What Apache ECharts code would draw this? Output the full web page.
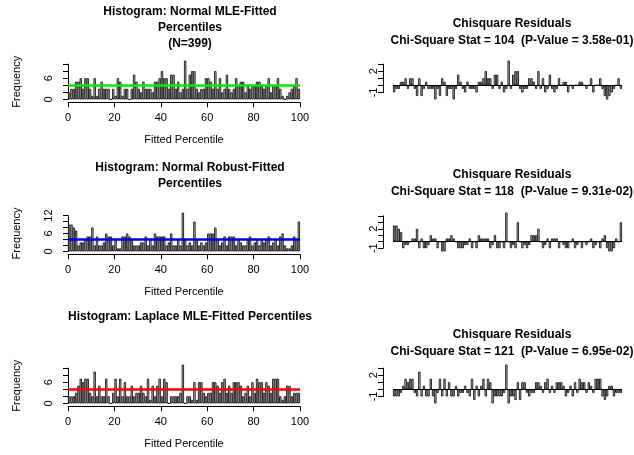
<!DOCTYPE html>
<html>
<head>
<meta charset="utf-8">
<script src="https://cdn.jsdelivr.net/npm/echarts@6/dist/echarts.min.js"></script>
<style>
html, body { margin: 0; padding: 0; background: #fff; }
#main { width: 634px; height: 455px; }
</style>
</head>
<body>
<div id="main"></div>
<script>
// 直方图计数 (100 个分箱, 每箱 1 个百分位)
var countsMLE = [2,3,3,5,5,6,3,6,6,3, 1,6,1,3,5,3,3,3,0,3, 1,6,5,1,3,3,0,3,7,5, 3,2,5,3,3,3,2,5,5,6, 8,6,6,3,7,7,3,5,2,3,
                 11,3,7,8,8,3,2,3,3,6, 6,5,3,8,3,6,2,3,7,3, 2,3,6,4,5,5,2,4,3,4, 4,5,5,4,3,4,6,2,4,4, 6,3,1,0,1,2,3,4,6,3];
var countsRobust = [9,9,8,7,2,3,3,4,5,5, 8,2,5,2,2,3,6,5,5,2, 4,1,1,5,5,6,5,4,2,2, 2,3,3,5,2,4,2,6,5,5, 5,5,2,3,6,2,2,4,2,13,
                    4,2,3,2,10,4,2,3,2,3, 6,6,6,8,4,2,3,5,2,5, 5,5,2,4,3,2,2,4,5,2, 3,4,2,4,3,4,5,2,3,4, 2,5,6,2,1,1,2,5,4,10];
var countsLaplace = [2,2,2,3,5,7,6,7,7,3, 2,9,2,5,2,2,7,2,0,3, 7,2,7,2,6,2,2,5,2,3, 3,5,3,2,7,1,5,2,5,7, 2,7,6,0,2,2,2,2,3,11,
                     0,2,2,1,6,1,6,6,3,2, 3,3,6,6,5,3,6,7,3,5, 3,6,6,6,5,2,3,5,2,6, 3,7,6,6,3,6,5,3,7,7, 7,2,1,2,5,5,2,3,3,3];

// 卡方残差
var residMLE = [-1,-0.5,-0.5,0.5,0.5,1,-0.5,1,1,-0.5, -1.5,1,-1.5,-0.5,0.5,-0.5,-0.5,-0.5,-2,-0.5,
                -1.5,1,0.5,-1.5,-0.5,-0.5,-2,-0.5,1.5,0.5, -0.5,-1,0.5,-0.5,-0.5,-0.5,-1,0.5,0.5,1,
                2,1,1,-0.5,1.5,1.5,-0.5,0.5,-1,-0.5, 3.5,-0.5,1.5,2,2,-0.5,-1,-0.5,-0.5,1,
                1,0.5,-0.5,2,-0.5,1,-1,-0.5,1.5,-0.5, -1,-0.5,1,0,0.5,0.5,-1,0,-0.5,0,
                0,0.5,0.5,0,-0.5,0,1,-1,0,0, 1,-0.5,-1.5,-2,-1.5,-1,-0.5,0,1,-0.5];
var residRobust = [2.5,2.5,2,1.5,-1,-0.5,-0.5,0,0.5,0.5, 2,-1,0.5,-1,-1,-0.5,1,0.5,0.5,-1,
                   0,-1.5,-1.5,0.5,0.5,1,0.5,0,-1,-1, -1,-0.5,-0.5,0.5,-1,0,-1,1,0.5,0.5,
                   0.5,0.5,-1,-0.5,1,-1,-1,0,-1,4.5, 0,-1,-0.5,-1,3,0,-1,-0.5,-1,-0.5,
                   1,1,1,2,0,-1,-0.5,0.5,-1,0.5, 0.5,0.5,-1,0,-0.5,-1,-1,0,0.5,-1,
                   -0.5,0,-1,0,-0.5,0,0.5,-1,-0.5,0, -1,0.5,1,-1,-1.5,-1.5,-1,0.5,0,3];
var residLaplace = [-1,-1,-1,-0.5,0.5,1.5,1,1.5,1.5,-0.5, -1,2.5,-1,0.5,-1,-1,1.5,-1,-2,-0.5,
                    1.5,-1,1.5,-1,1,-1,-1,0.5,-1,-0.5, -0.5,0.5,-0.5,-1,1.5,-1.5,0.5,-1,0.5,1.5,
                    -1,1.5,1,-2,-1,-1,-1,-1,-0.5,3.5, -2,-1,-1,-1.5,1,-1.5,1,1,-0.5,-1,
                    -0.5,-0.5,1,1,0.5,-0.5,1,1.5,-0.5,0.5, -0.5,1,1,1,0.5,-1,-0.5,0.5,-1,1,
                    -0.5,1.5,1,1,-0.5,1,0.5,-0.5,1.5,1.5, 1.5,-1,-1.5,-1,0.5,0.5,-1,-0.5,-0.5,-0.5];

var xTicks = [0, 20, 40, 60, 80, 100];
var expected = 3.99; // 399 / 100

var titlesLeft = ['Histogram: Normal MLE-Fitted\nPercentiles\n(N=399)', 'Histogram: Normal Robust-Fitted\nPercentiles', 'Histogram: Laplace MLE-Fitted Percentiles'];
var titlesRight = ['Chisquare Residuals\nChi-Square Stat = 104  (P-Value = 3.58e-01)',
                   'Chisquare Residuals\nChi-Square Stat = 118  (P-Value = 9.31e-02)',
                   'Chisquare Residuals\nChi-Square Stat = 121  (P-Value = 6.95e-02)'];
var lineColors = ['#00ee00', '#0000ff', '#ff0000'];

var myChart = echarts.init(document.getElementById('main'));
var FONT = 'Liberation Sans, Arial, sans-serif';

var cats = [];
for (var i = 0; i < 100; i++) cats.push(i);

// 左列: 网格顶端=最高刻度处, 底端=0
var leftGeo = [
    {top: 64.1, height: 35.3, max: 10, labels: [0, 6]},
    {top: 215.6, height: 35.8, max: 12, labels: [0, 6, 12]},
    {top: 368.1, height: 35.3, max: 10, labels: [0, 6]}
];
// 右列: 刻度 -1 到 max
var rightGeo = [
    {top: 64.1, height: 28.3, min: -1, max: 3},
    {top: 215.8, height: 32.4, min: -1, max: 4},
    {top: 368.1, height: 28.3, min: -1, max: 3}
];
var allCounts = [countsMLE, countsRobust, countsLaplace];
var allResid = [residMLE, residRobust, residLaplace];

var grids = [], xAxes = [], yAxes = [], series = [], titles = [];
var leftTitleTop = [-1, 155, 304];
var rightTitleTop = [10, 161, 321];

for (var r = 0; r < 3; r++) {
    var g = leftGeo[r];
    var gi = grids.length;
    grids.push({left: 68, width: 232, top: g.top, height: g.height});
    xAxes.push({type: 'category', gridIndex: gi, data: cats, show: false, boundaryGap: true});
    xAxes.push({type: 'value', gridIndex: gi, min: 0, max: 100, interval: 20, position: 'bottom', offset: 3,
        axisLine: {show: true, lineStyle: {color: '#000', width: 1}},
        axisTick: {show: true, length: 5, lineStyle: {color: '#000'}},
        axisLabel: {color: '#000', fontSize: 11, fontFamily: FONT, margin: 10,
            formatter: function (v) { return xTicks.indexOf(v) >= 0 ? String(v) : ''; }},
        splitLine: {show: false},
        name: 'Fitted Percentile', nameLocation: 'middle', nameGap: 32,
        nameTextStyle: {color: '#000', fontSize: 11, fontFamily: FONT}});
    (function (labels) {
        yAxes.push({type: 'value', gridIndex: gi, min: 0, max: g.max, interval: 2, offset: 10,
            axisLine: {show: true, lineStyle: {color: '#000', width: 1}},
            axisTick: {show: true, length: 5, lineStyle: {color: '#000'}},
            axisLabel: {color: '#000', fontSize: 11, fontFamily: FONT, rotate: 90, margin: 4,
                formatter: function (v) { return labels.indexOf(v) >= 0 ? String(v) : ''; }},
            splitLine: {show: false},
            name: 'Frequency', nameLocation: 'middle', nameGap: 36, nameRotate: 90,
            nameTextStyle: {color: '#000', fontSize: 11, fontFamily: FONT}});
    })(g.labels);
    series.push({type: 'bar', xAxisIndex: xAxes.length - 2, yAxisIndex: yAxes.length - 1,
        data: allCounts[r], barCategoryGap: 0, clip: false, silent: true,
        itemStyle: {color: '#bebebe', borderColor: '#000', borderWidth: 0.8},
        markLine: {symbol: 'none', silent: true, label: {show: false},
            lineStyle: {color: lineColors[r], width: 2.5, type: 'solid'},
            data: [{yAxis: expected}]}});
    titles.push({text: titlesLeft[r], left: 185, top: leftTitleTop[r], textAlign: 'center',
        textStyle: {fontSize: 12, fontWeight: 'bold', fontFamily: FONT, color: '#000', lineHeight: 16}});

    var h = rightGeo[r];
    gi = grids.length;
    grids.push({left: 393, width: 229, top: h.top, height: h.height});
    xAxes.push({type: 'category', gridIndex: gi, data: cats, show: false, boundaryGap: true});
    yAxes.push({type: 'value', gridIndex: gi, min: h.min, max: h.max, interval: 1, offset: 10,
        axisLine: {show: true, lineStyle: {color: '#000', width: 1}},
        axisTick: {show: true, length: 5, lineStyle: {color: '#000'}},
        axisLabel: {color: '#000', fontSize: 11, fontFamily: FONT, rotate: 90, margin: 4,
            formatter: function (v) { return (v === -1 || v === 2) ? String(v) : ''; }},
        splitLine: {show: false}});
    series.push({type: 'bar', xAxisIndex: xAxes.length - 1, yAxisIndex: yAxes.length - 1,
        data: allResid[r], barCategoryGap: 0, clip: false, silent: true,
        itemStyle: {color: '#bebebe', borderColor: '#000', borderWidth: 0.8},
        markLine: {symbol: 'none', silent: true, label: {show: false},
            lineStyle: {color: '#000', width: 1, type: 'solid'},
            data: [{yAxis: 0}]}});
    titles.push({text: titlesRight[r], left: 507, top: rightTitleTop[r], textAlign: 'center',
        textStyle: {fontSize: 12, fontWeight: 'bold', fontFamily: FONT, color: '#000', lineHeight: 17}});
}

var option = {
    animation: false,
    backgroundColor: '#fff',
    title: titles,
    grid: grids,
    xAxis: xAxes,
    yAxis: yAxes,
    series: series
};
myChart.setOption(option);
</script>
</body>
</html>
